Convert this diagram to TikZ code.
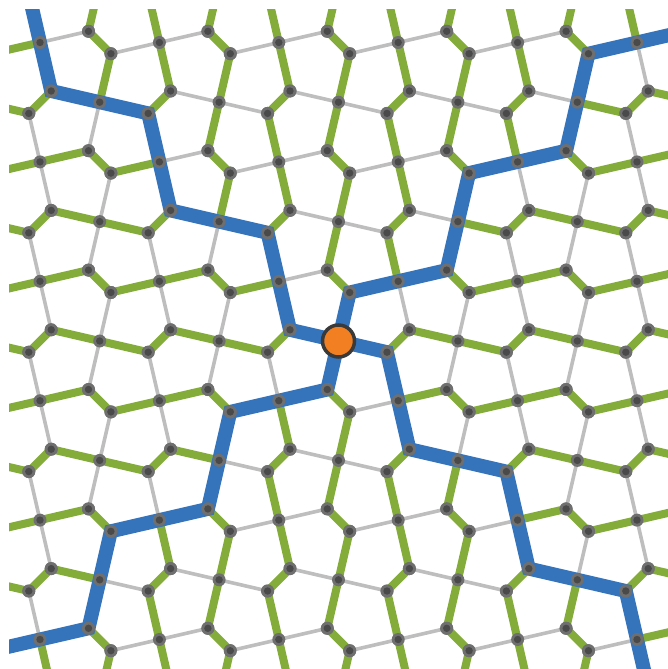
\documentclass[tikz,border=0pt]{standalone}
\usepackage{tikz}
\definecolor{bl}{HTML}{3574BB}
\definecolor{gr}{HTML}{84AC3B}
\definecolor{gy}{HTML}{BEBEBE}
\definecolor{dotout}{HTML}{6F6F6F}
\definecolor{dotin}{HTML}{4A4A4A}
\definecolor{org}{HTML}{F28023}
\definecolor{dk}{HTML}{3A3A3A}
\tikzset{
  grayedge/.style={draw=gy, line width=3.6pt, line cap=round},
  greenedge/.style={draw=gr, line width=8pt, line cap=round},
  armpath/.style={draw=bl, line width=14pt, line join=miter, line cap=butt},
  centre/.style={circle, fill=org, draw=dk, line width=3.5pt, minimum size=32pt, inner sep=0pt},
}
\def\cx{338.5}\def\cy{341}\def\dd{59.7}\def\rs{11.2}\def\rc{48.5}
\newcommand\myedge[4]{%
  \pgfmathsetmacro\ex{\X+(#2)}%
  \pgfmathsetmacro\ey{\Y+(#3)}%
  \coordinate (V\ii-\jj#1) at (\ex,\ey);%
  \pgfmathsetmacro\mx{abs(\dd*(\a)+0.5*(#2))}%
  \pgfmathsetmacro\my{abs(\dd*(\b)+0.5*(#3))}%
  \pgfmathtruncatemacro\gg{ifthenelse(#4==1, \my>\mx, \mx>\my)}%
  \ifnum\gg=1 \draw[greenedge] (V\ii-\jj) -- (V\ii-\jj#1);%
  \else \draw[grayedge] (V\ii-\jj) -- (V\ii-\jj#1);\fi
}
\newcommand\mydot[1]{%
  \fill[dotout] (#1) circle[radius=6.5pt];%
  \fill[dotin] (#1) circle[radius=3.7pt];%
}
\begin{document}
\begin{tikzpicture}[x=1pt,y=-1pt]
\useasboundingbox (0,0) rectangle (668,669);
\begin{scope}
\clip (9,10) rectangle (700,700);
% lattice edges
\foreach \a in {-7,...,7}{
  \foreach \b in {-7,...,7}{
    \pgfmathtruncatemacro\sm{\a+\b}
    \ifodd\sm\relax\else
      \ifodd\a\relax \def\s{-1}\else \def\s{1}\fi
      \pgfmathtruncatemacro\ii{\a+7}
      \pgfmathtruncatemacro\jj{\b+7}
      \pgfmathsetmacro\X{\cx+\dd*(\a)}
      \pgfmathsetmacro\Y{\cy+\dd*(\b)}
      \pgfmathsetmacro\sr{(\s)*\rs}
      \pgfmathsetmacro\nsr{-(\s)*\rs}
      \coordinate (V\ii-\jj) at (\X,\Y);
      \myedge{u}{\sr}{-\rc}{1}
      \myedge{r}{\rc}{\sr}{0}
      \myedge{d}{\nsr}{\rc}{1}
      \myedge{l}{-\rc}{\nsr}{0}
      \ifnum\b>-6
        \pgfmathtruncatemacro\jm{\jj-2}
        \draw[greenedge] (V\ii-\jj u) -- (V\ii-\jm d);
      \fi
    \fi
  }
}
% blue arms
\draw[armpath] (V7-7) -- (V7-7u) -- (V8-6) -- (V8-6r) -- (V9-5) -- (V9-5u) -- (V10-4) -- (V10-4r) -- (V11-3) -- (V11-3u) -- (V12-2) -- (V12-2r) -- (V13-1);
\draw[armpath] (V7-7) -- (V7-7l) -- (V6-6) -- (V6-6u) -- (V5-5) -- (V5-5l) -- (V4-4) -- (V4-4u) -- (V3-3) -- (V3-3l) -- (V2-2) -- (V2-2u) -- (V1-1);
\draw[armpath] (V7-7) -- (V7-7r) -- (V8-8) -- (V8-8d) -- (V9-9) -- (V9-9r) -- (V10-10) -- (V10-10d) -- (V11-11) -- (V11-11r) -- (V12-12) -- (V12-12d) -- (V13-13);
\draw[armpath] (V7-7) -- (V7-7d) -- (V6-8) -- (V6-8l) -- (V5-9) -- (V5-9d) -- (V4-10) -- (V4-10l) -- (V3-11) -- (V3-11d) -- (V2-12) -- (V2-12l) -- (V1-13);
% vertex dots
\foreach \a in {-7,...,7}{
  \foreach \b in {-7,...,7}{
    \pgfmathtruncatemacro\sm{\a+\b}
    \ifodd\sm\relax\else
      \pgfmathtruncatemacro\ii{\a+7}
      \pgfmathtruncatemacro\jj{\b+7}
      \mydot{V\ii-\jj}
      \mydot{V\ii-\jj u}
      \mydot{V\ii-\jj r}
      \mydot{V\ii-\jj d}
      \mydot{V\ii-\jj l}
    \fi
  }
}
\node[centre] (ctr) at (V7-7) {};
\end{scope}
\end{tikzpicture}
\end{document}
